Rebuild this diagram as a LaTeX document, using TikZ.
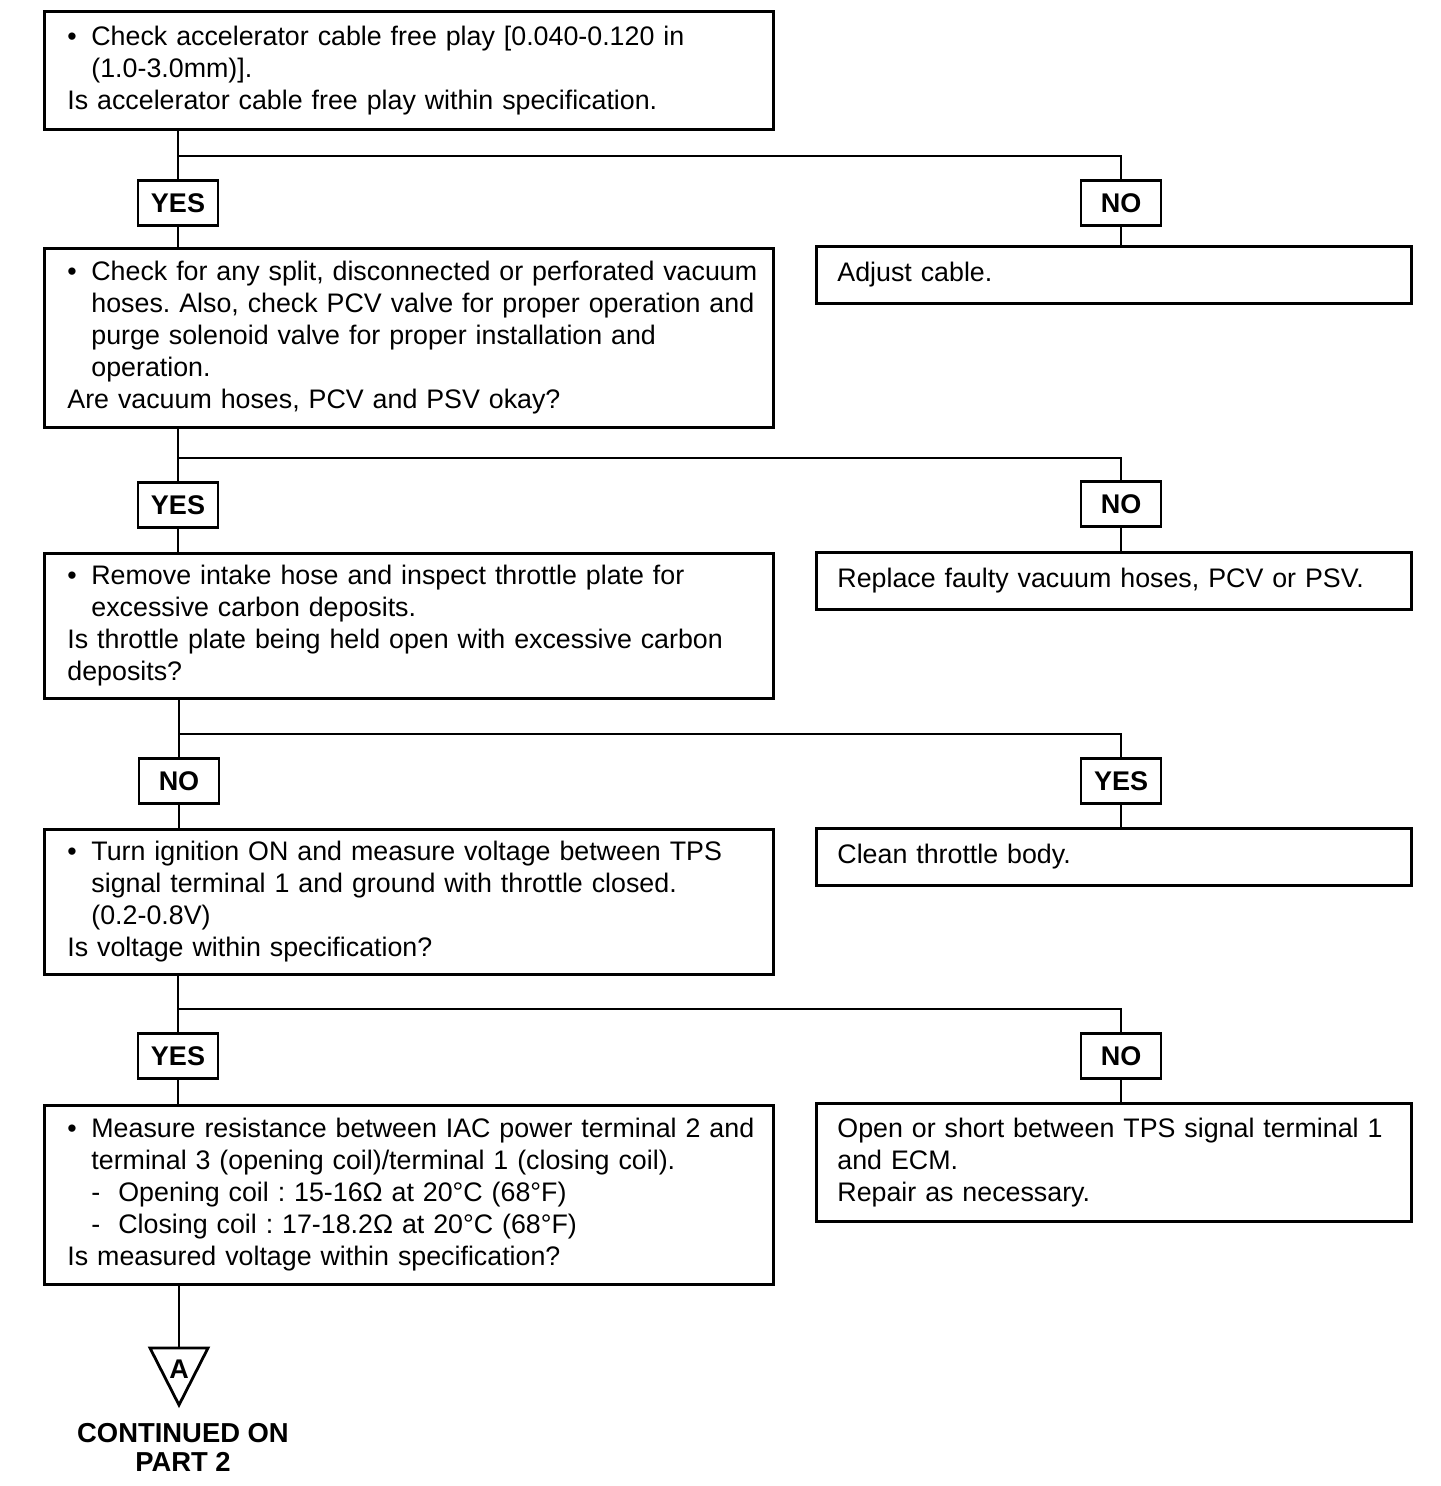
\documentclass[tikz,border=0pt]{standalone}
\usepackage{fontspec}
\setmainfont{Liberation Sans}
\frenchspacing
\newcommand{\bul}[1]{\mbox{\makebox[12pt][l]{\textbullet}#1}}
\newcommand{\hng}[1]{\mbox{\hspace*{12pt}#1}}
\newcommand{\dashitm}[1]{\makebox[13.5pt][l]{-}#1}
\tikzset{
  qbox/.style={draw, line width=1.4pt, anchor=north west, align=left,
    text width=341.5pt, inner xsep=11.5pt, inner ysep=0pt,
    font=\fontsize{13.4}{16}\selectfont},
  abox/.style={draw, line width=1.4pt, anchor=north west, align=left,
    text width=276.5pt, inner xsep=10.5pt, inner ysep=0pt,
    font=\fontsize{13.4}{16}\selectfont},
  yn/.style={draw, line width=1.4pt, minimum width=40pt, minimum height=22.5pt,
    inner sep=0pt, font=\fontsize{13.5}{16}\bfseries},
  link/.style={line width=1.4pt},
}
\begin{document}
\begin{tikzpicture}[x=0.5pt, y=-0.5pt]
  \useasboundingbox (0,0) rectangle (1440,1486);
  % question boxes
  \node[qbox, minimum height=59pt] (q1) at (43,10)
    {\bul{Check accelerator cable free play [0.040-0.120 in}\\
     \hng{(1.0-3.0mm)].}\\
     Is accelerator cable free play within specification.};
  \node[qbox, minimum height=89.5pt] (q2) at (43,247)
    {\bul{Check for any split, disconnected or perforated vacuum}\\
     \hng{hoses. Also, check PCV valve for proper operation and}\\
     \hng{purge solenoid valve for proper installation and}\\
     \hng{operation.}\\
     Are vacuum hoses, PCV and PSV okay?};
  \node[qbox, minimum height=72.5pt] (q3) at (43,552)
    {\bul{Remove intake hose and inspect throttle plate for}\\
     \hng{excessive carbon deposits.}\\
     Is throttle plate being held open with excessive carbon\\
     deposits?};
  \node[qbox, minimum height=72.5pt] (q4) at (43,828)
    {\bul{Turn ignition ON and measure voltage between TPS}\\
     \hng{signal terminal 1 and ground with throttle closed.}\\
     \hng{(0.2-0.8V)}\\
     Is voltage within specification?};
  \node[qbox, minimum height=89.5pt] (q5) at (43,1104)
    {\bul{Measure resistance between IAC power terminal 2 and}\\
     \hng{terminal 3 (opening coil)/terminal 1 (closing coil).}\\
     \hng{\dashitm{Opening coil : 15-16Ω at 20°C (68°F)}}\\
     \hng{\dashitm{Closing coil : 17-18.2Ω at 20°C (68°F)}}\\
     Is measured voltage within specification?};
  % action boxes
  \node[abox, minimum height=28.5pt] (a1) at (815,245) {Adjust cable.};
  \node[abox, minimum height=28.5pt] (a2) at (815,551) {Replace faulty vacuum hoses, PCV or PSV.};
  \node[abox, minimum height=28.5pt] (a3) at (815,827) {Clean throttle body.};
  \node[abox, minimum height=59pt] (a4) at (815,1102)
    {\mbox{Open or short between TPS signal terminal 1}\\
     and ECM.\\
     Repair as necessary.};
  % answers
  \node[yn] (go1) at (178,203) {YES};
  \node[yn] (fix1) at (1121,203) {NO};
  \node[yn] (go2) at (178,505) {YES};
  \node[yn] (fix2) at (1121,504) {NO};
  \node[yn] (go3) at (179,781) {NO};
  \node[yn] (fix3) at (1121,781) {YES};
  \node[yn] (go4) at (178,1056) {YES};
  \node[yn] (fix4) at (1121,1056) {NO};
  \coordinate (split1) at (178,156);
  \coordinate (split2) at (178,458);
  \coordinate (split3) at (179,734);
  \coordinate (split4) at (178,1009);
  % connectors
  \foreach \i/\j in {1/2,2/3,3/4,4/5} {
    \draw[link] (q\i.south -| go\i) -- (go\i);
    \draw[link] (go\i) -- (q\j.north -| go\i);
    \draw[link] (split\i) -| (fix\i);
    \draw[link] (fix\i) -- (a\i.north -| fix\i);
  }
  % continuation mark
  \coordinate (contA) at (179,1348);
  \draw[link] (q5.south -| contA) -- (contA);
  \draw[link, line join=miter] (contA) ++(-29,0) -- ++(58,0) -- ++(-29,57) -- cycle;
  \node[font=\fontsize{13.5}{14}\bfseries] (lblA) at (179,1369) {A};
  \node[align=center, font=\fontsize{13.7}{14.5}\bfseries] (cont) at (183,1447)
    {CONTINUED ON\\PART 2};
\end{tikzpicture}
\end{document}
